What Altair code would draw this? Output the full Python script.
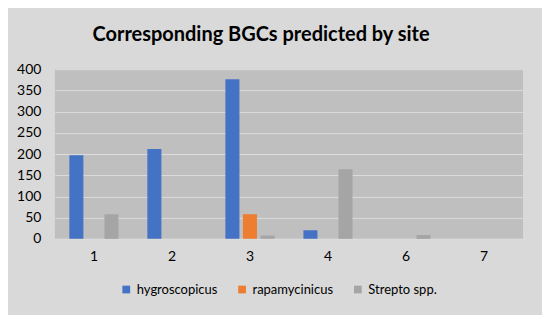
import altair as alt
import pandas as pd

sites = ["1", "2", "3", "4", "6", "7"]
series = ["hygroscopicus", "rapamycinicus", "Strepto spp."]
hygroscopicus = [197, 212, 376, 20, 0, 0]
rapamycinicus = [0, 0, 58, 0, 0, 0]
strepto = [58, 0, 8, 164, 9, 0]
colors = ["#4472c4", "#ed7d31", "#a5a5a5"]
y_ticks = [0, 50, 100, 150, 200, 250, 300, 350, 400]

rows = []
for i, s in enumerate(sites):
    for name, vals in zip(series, [hygroscopicus, rapamycinicus, strepto]):
        rows.append({"site": s, "series": name, "value": vals[i]})
df = pd.DataFrame(rows)

FONT = "Lato"

chart = alt.Chart(df).mark_bar().encode(
    x=alt.X("site:N", sort=sites, title=None,
            scale=alt.Scale(paddingInner=0.37, paddingOuter=0.185),
            axis=alt.Axis(labelAngle=0, domain=False, ticks=False, labelPadding=11,
                          labelFontSize=14, labelColor="#000000", labelFont=FONT)),
    xOffset=alt.XOffset("series:N", sort=series, scale=alt.Scale(paddingInner=0.2)),
    y=alt.Y("value:Q", title=None,
            scale=alt.Scale(domain=[0, 400]),
            axis=alt.Axis(values=y_ticks, domain=False, ticks=False, labelPadding=14,
                          labelFontSize=14, labelColor="#000000", labelFont=FONT,
                          gridColor="#dcdcdc", gridWidth=1)),
    color=alt.Color("series:N", sort=series,
                    scale=alt.Scale(domain=series, range=colors),
                    legend=alt.Legend(title=None, orient="none", direction="horizontal",
                                      legendX=65, legendY=214, symbolType="square",
                                      symbolSize=60, symbolStrokeWidth=0,
                                      labelFontSize=13, labelFont=FONT, labelColor="#000000",
                                      columnPadding=18, symbolOffset=0)),
).properties(
    width=469,
    height=170,
    title=alt.Title("Corresponding BGCs predicted by site", fontSize=20, font=FONT,
                    fontWeight="bold", color="#000000", anchor="middle", dx=-28, offset=17),
    padding={"left": 47, "top": 61, "right": 19, "bottom": 76},
    autosize=alt.AutoSizeParams(type="none"),
).configure(
    background="#d9d9d9"
).configure_view(
    fill="#bfbfbf", stroke=None
)

chart.save("out.html", embed_options={"renderer": "svg", "actions": False})
